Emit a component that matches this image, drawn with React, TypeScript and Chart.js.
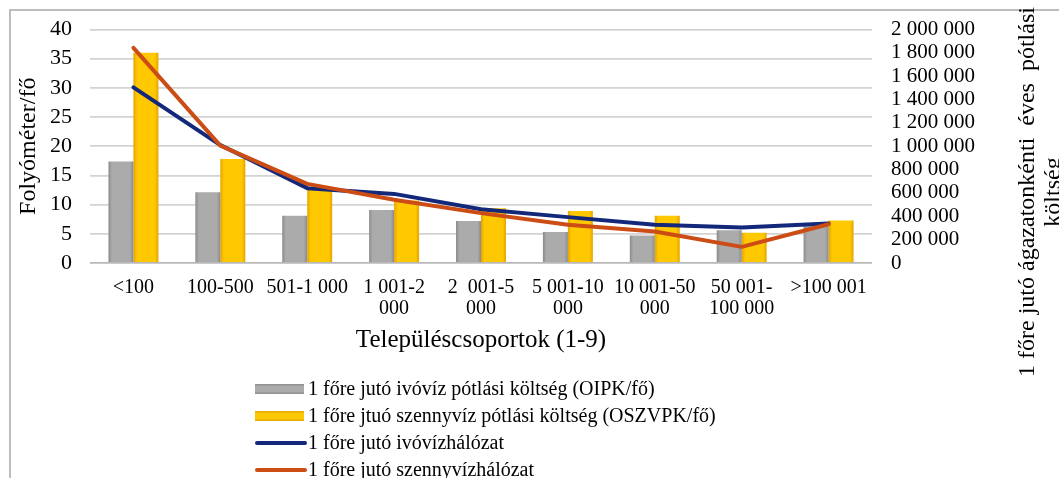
import React, { useEffect, useRef } from "react";
import { Chart, registerables } from "chart.js";

Chart.register(...registerables);

// ---- data ----
const categories: (string | string[])[] = [
  "<100",
  "100-500",
  "501-1 000",
  ["1 001-2", "000"],
  ["2  001-5", "000"],
  ["5 001-10", "000"],
  ["10 001-50", "000"],
  ["50 001-", "100 000"],
  ">100 001",
];
const oipkPerCapita = [17.4, 12.1, 8.1, 9.1, 7.2, 5.3, 4.7, 5.6, 6.3];
const oszvpkPerCapita = [36.0, 17.8, 12.5, 10.7, 9.4, 8.9, 8.1, 5.2, 7.3];
const drinkingNetwork = [1504000, 1010000, 641000, 592000, 461000, 393000, 327000, 305000, 338000];
const sewerNetwork = [1843000, 1005000, 678000, 541000, 427000, 327000, 270000, 138000, 332000];

const leftMax = 40;
const leftStep = 5;
const rightMax = 2000000;
const rightStep = 200000;

const seriesLabels = [
  "1 főre jutó ivóvíz pótlási költség (OIPK/fő)",
  "1 főre jtuó szennyvíz pótlási költség (OSZVPK/fő)",
  "1 főre jutó ivóvízhálózat",
  "1 főre jutó szennyvízhálózat",
];
const leftTitle = "Folyóméter/fő";
const xTitle = "Településcsoportok (1-9)";
const rightTitleLines = ["1 főre jutó ágazatonkénti  éves  pótlási", "költség"];

// ---- styles ----
const FONT = "'Liberation Serif', 'Times New Roman', serif";
const CAT_PCT = 0.575;
const GRAY = "#ABABAB";
const GRAY_EDGE = "#8A8A8A";
const YELLOW = "#FFC800";
const YELLOW_EDGE = "#E6A200";
const BLUE = "#13287A";
const ORANGE = "#CC4C16";

const fmt = (n: number) => String(n).replace(/\B(?=(\d{3})+(?!\d))/g, " ");

function makeGrad(ctx: CanvasRenderingContext2D, left: number, w: number, base: string, edge: string) {
  const g = ctx.createLinearGradient(left, 0, left + w, 0);
  g.addColorStop(0, edge);
  g.addColorStop(0.14, base);
  g.addColorStop(0.86, base);
  g.addColorStop(1, edge);
  return g;
}

function barFill(base: string, edge: string, slot: number) {
  return (c: any) => {
    const chart = c.chart;
    const xs = chart.scales && chart.scales.x;
    if (c.type !== "data" || !xs) return base;
    const center = xs.getPixelForValue(c.dataIndex);
    if (!isFinite(center)) return base;
    const w = (xs.width / categories.length) * CAT_PCT / 2;
    const left = slot === 0 ? center - w : center;
    if (!isFinite(w) || w <= 0) return base;
    return makeGrad(chart.ctx, left, w, base, edge);
  };
}

const decorPlugin = {
  id: "decor",
  beforeDraw(chart: any) {
    const ctx = chart.ctx as CanvasRenderingContext2D;
    ctx.save();
    ctx.fillStyle = "#ffffff";
    ctx.fillRect(0, 0, chart.width, chart.height);
    ctx.strokeStyle = "#BDBDBD";
    ctx.lineWidth = 2;
    ctx.strokeRect(10, 10, chart.width + 20, chart.height + 20);
    ctx.restore();
  },
  afterDraw(chart: any) {
    const ctx = chart.ctx as CanvasRenderingContext2D;
    // right axis title (rotated, reading bottom-to-top)
    ctx.save();
    ctx.fillStyle = "#000";
    ctx.font = `24px ${FONT}`;
    ctx.textAlign = "center";
    ctx.textBaseline = "middle";
    ctx.translate(1028, 192);
    ctx.rotate(-Math.PI / 2);
    rightTitleLines.forEach((t, i) => ctx.fillText(t, 0, i * 26));
    ctx.restore();

    // legend
    ctx.save();
    const x0 = 255;
    const rowY = [389, 416, 443, 470];
    ctx.font = `20px ${FONT}`;
    ctx.textBaseline = "middle";
    ctx.textAlign = "left";
    seriesLabels.forEach((label, i) => {
      const y = rowY[i];
      if (i < 2) {
        const base = i === 0 ? GRAY : YELLOW;
        const edge = i === 0 ? GRAY_EDGE : YELLOW_EDGE;
        const g = ctx.createLinearGradient(0, y - 5, 0, y + 5);
        g.addColorStop(0, edge);
        g.addColorStop(0.25, base);
        g.addColorStop(0.75, base);
        g.addColorStop(1, edge);
        ctx.fillStyle = g;
        ctx.fillRect(x0, y - 5, 49, 10);
      } else {
        ctx.strokeStyle = i === 2 ? BLUE : ORANGE;
        ctx.lineWidth = 4;
        ctx.lineCap = "round";
        ctx.beginPath();
        ctx.moveTo(x0 + 2, y);
        ctx.lineTo(x0 + 50, y);
        ctx.stroke();
      }
      ctx.fillStyle = "#000";
      ctx.fillText(label, x0 + 53, y + 1);
    });
    ctx.restore();
  },
};

export default function App() {
  const ref = useRef<HTMLCanvasElement | null>(null);

  useEffect(() => {
    if (!ref.current) return;
    const chart = new Chart(ref.current, {
      type: "bar",
      data: {
        labels: categories,
        datasets: [
          {
            type: "bar",
            label: seriesLabels[0],
            data: oipkPerCapita,
            backgroundColor: barFill(GRAY, GRAY_EDGE, 0),
            borderWidth: 0,
            categoryPercentage: CAT_PCT,
            barPercentage: 1,
            yAxisID: "y",
            order: 2,
          },
          {
            type: "bar",
            label: seriesLabels[1],
            data: oszvpkPerCapita,
            backgroundColor: barFill(YELLOW, YELLOW_EDGE, 1),
            borderWidth: 0,
            categoryPercentage: CAT_PCT,
            barPercentage: 1,
            yAxisID: "y",
            order: 3,
          },
          {
            type: "line",
            label: seriesLabels[2],
            data: drinkingNetwork,
            borderColor: BLUE,
            backgroundColor: BLUE,
            borderWidth: 4,
            pointRadius: 0,
            tension: 0,
            borderCapStyle: "round",
            borderJoinStyle: "round",
            yAxisID: "y1",
            order: 1,
          },
          {
            type: "line",
            label: seriesLabels[3],
            data: sewerNetwork,
            borderColor: ORANGE,
            backgroundColor: ORANGE,
            borderWidth: 4,
            pointRadius: 0,
            tension: 0,
            borderCapStyle: "round",
            borderJoinStyle: "round",
            yAxisID: "y1",
            order: 0,
          },
        ] as any,
      },
      options: {
        animation: false,
        responsive: false,
        devicePixelRatio: 1,
        layout: { padding: { top: 29, bottom: 115, left: 0, right: 0 } },
        plugins: {
          legend: { display: false },
          tooltip: { enabled: false },
        },
        scales: {
          x: {
            grid: { display: false, drawTicks: false },
            border: { display: false },
            ticks: {
              color: "#000",
              font: { family: FONT, size: 20, lineHeight: 1.05 },
              padding: 14,
              maxRotation: 0,
              autoSkip: false,
            },
            title: {
              display: true,
              text: xTitle,
              color: "#000",
              font: { family: FONT, size: 25, lineHeight: 1.2 },
              padding: { top: 0, bottom: 8 },
            },
            afterFit: (s: any) => {
              s.height = 100;
            },
          },
          y: {
            position: "left",
            min: 0,
            max: leftMax,
            ticks: {
              stepSize: leftStep,
              autoSkip: false,
              color: "#000",
              font: { family: FONT, size: 22, lineHeight: 1 },
              padding: 18,
            },
            grid: {
              color: (c: any) => (c.tick && c.tick.value === 0 ? "#B8B8B8" : "#D3D3D3"),
              lineWidth: 1.8,
              drawTicks: false,
            },
            border: { display: false },
            title: {
              display: true,
              text: leftTitle,
              color: "#000",
              font: { family: FONT, size: 24, lineHeight: 1.2 },
              padding: { top: 14, bottom: 0 },
            },
            afterFit: (s: any) => {
              s.width = 90;
            },
          },
          y1: {
            position: "right",
            min: 0,
            max: rightMax,
            ticks: {
              stepSize: rightStep,
              autoSkip: false,
              color: "#000",
              font: { family: FONT, size: 21, lineHeight: 1 },
              padding: 19,
              callback: (v: any) => fmt(Number(v)),
            },
            grid: { display: false, drawTicks: false },
            border: { display: false },
            afterFit: (s: any) => {
              s.width = 187;
            },
          },
        },
      } as any,
      plugins: [decorPlugin],
    });
    return () => chart.destroy();
  }, []);

  return (
    <div style={{ position: "fixed", left: 0, top: 0, width: 1059, height: 478, background: "#fff" }}>
      <canvas ref={ref} width={1059} height={478} style={{ display: "block" }} />
    </div>
  );
}
